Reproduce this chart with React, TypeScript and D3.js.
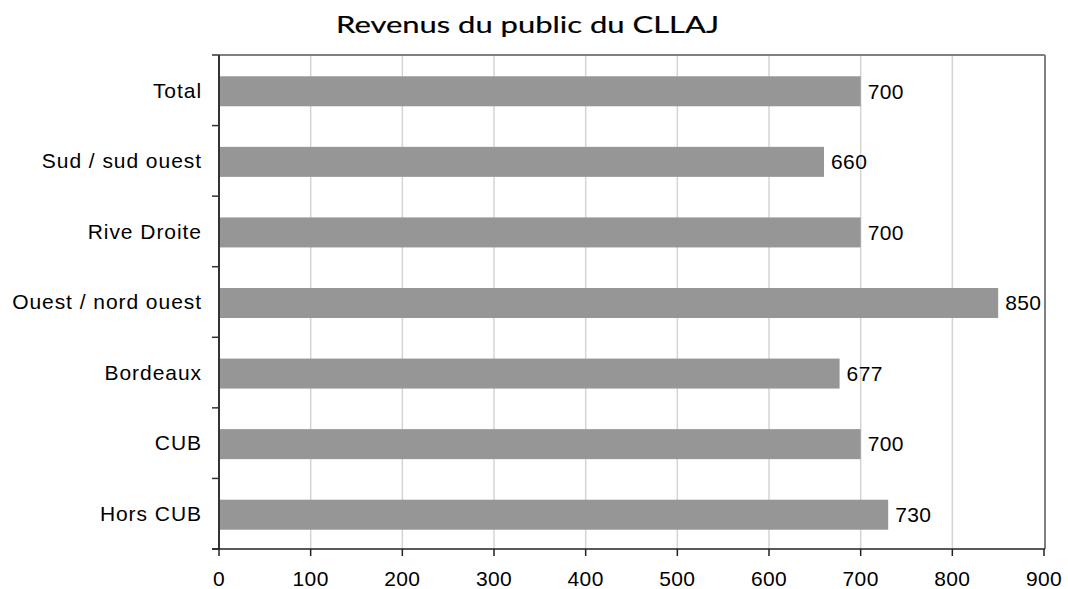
import React from "react";
import * as d3 from "d3";

const categories = ["Total", "Sud / sud ouest", "Rive Droite", "Ouest / nord ouest", "Bordeaux", "CUB", "Hors CUB"];
const values = [700, 660, 700, 850, 677, 700, 730];
const xTicks = [0, 100, 200, 300, 400, 500, 600, 700, 800, 900];
const title = "Revenus du public du CLLAJ";

const W = 1068, H = 589;
const left = 219, right = 1044, top = 55, bottom = 549;

export default function App() {
  const x = d3.scaleLinear().domain([0, 900]).range([left, right]);
  const y = d3.scaleBand<string>().domain(categories).range([top, bottom]).padding(0);
  const bw = y.bandwidth();
  const barH = 30;
  const boundaries = d3.range(categories.length + 1).map((i) => top + i * y.step());
  const font = "'Liberation Sans', Arial, sans-serif";
  return (
    <svg width={W} height={H} style={{ position: "absolute", left: 0, top: 0, background: "#fff" }}>
      <text
        x={527.5}
        y={32.5}
        textAnchor="middle"
        fontFamily="Lato, 'Noto Sans', sans-serif"
        fontSize={24}
        fill="#000"
        stroke="#000"
        strokeWidth={0.2}
        textLength={383}
        lengthAdjust="spacingAndGlyphs"
      >
        {title}
      </text>
      {/* gridlines */}
      {xTicks.slice(1, -1).map((t) => (
        <line key={"g" + t} x1={x(t)} x2={x(t)} y1={top} y2={bottom} stroke="#d4d4d4" strokeWidth={1.5} />
      ))}
      {/* border top/right */}
      <line x1={left} x2={right + 1} y1={top} y2={top} stroke="#808080" strokeWidth={2} />
      <line x1={right + 1} x2={right + 1} y1={top} y2={bottom} stroke="#808080" strokeWidth={2} />
      {/* bars */}
      {categories.map((c, i) => (
        <rect key={c} x={x(0) + 1} y={(y(c) as number) + (bw - barH) / 2 + 1} width={x(values[i]) - x(0) - 1} height={barH} fill="#969696" />
      ))}
      {/* value labels */}
      {categories.map((c, i) => (
        <text key={"v" + c} x={x(values[i]) + 7} y={(y(c) as number) + bw / 2 + 1} dy="0.35em" fontFamily={font} fontSize={21} letterSpacing={0.4} fill="#000">
          {values[i]}
        </text>
      ))}
      {/* left axis */}
      <line x1={left} x2={left} y1={top} y2={bottom} stroke="#333" strokeWidth={2} />
      {boundaries.map((b, i) => (
        <line key={"yt" + i} x1={left - 7} x2={left} y1={b} y2={b} stroke="#333" strokeWidth={1.5} />
      ))}
      {categories.map((c) => (
        <text key={"c" + c} x={left - 17} y={(y(c) as number) + bw / 2} dy="0.35em" textAnchor="end" fontFamily={font} fontSize={21} letterSpacing={0.95} fill="#000">
          {c}
        </text>
      ))}
      {/* bottom axis */}
      <line x1={left - 7} x2={right + 1} y1={bottom} y2={bottom} stroke="#222" strokeWidth={1.5} />
      {xTicks.map((t) => (
        <g key={"xt" + t}>
          <line x1={x(t)} x2={x(t)} y1={bottom} y2={bottom + 7} stroke="#222" strokeWidth={1.5} />
          <text x={x(t)} y={586} textAnchor="middle" fontFamily={font} fontSize={21} letterSpacing={0.4} fill="#000">
            {t}
          </text>
        </g>
      ))}
    </svg>
  );
}
